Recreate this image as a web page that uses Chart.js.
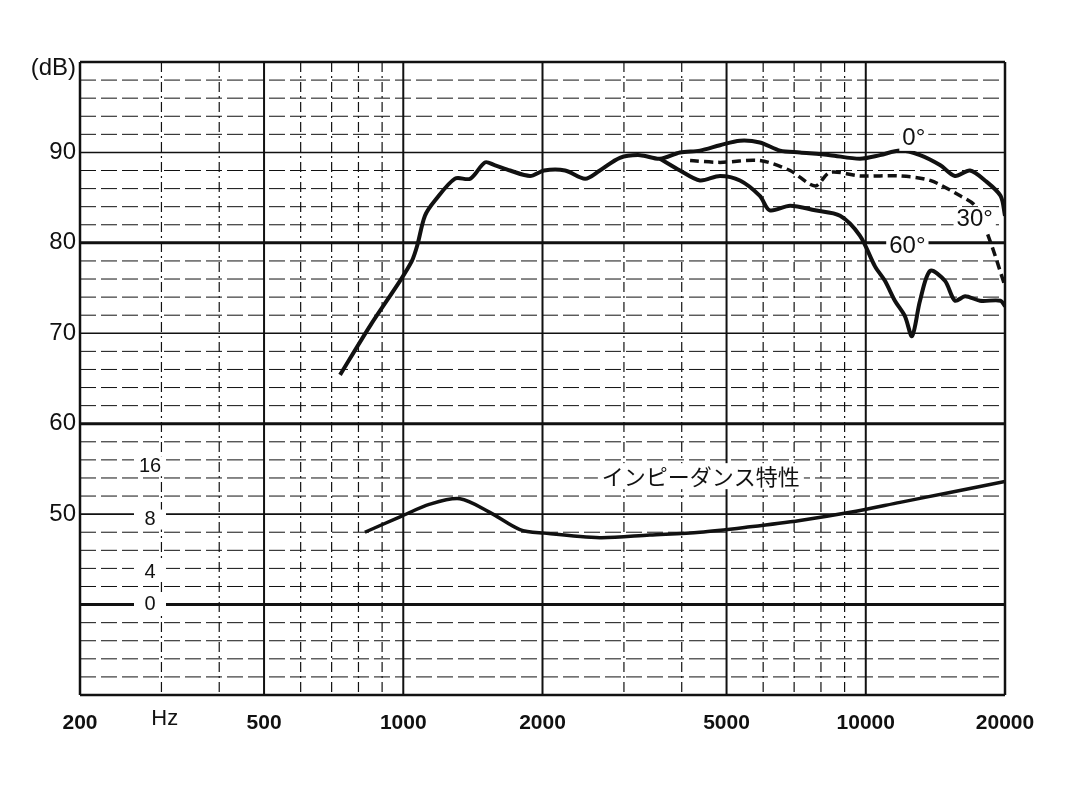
<!DOCTYPE html>
<html>
<head>
<meta charset="utf-8">
<script src="https://cdn.jsdelivr.net/npm/chart.js@4"></script>
<style>
  html, body { margin: 0; padding: 0; background: #fff; }
  #wrap { width: 1080px; height: 803px; }
</style>
</head>
<body>
<div id="wrap"><canvas id="c" width="1080" height="803"></canvas></div>
<script>
// frequency response (Hz, dB)
const resp0 = [[730,65.4],[847,70.8],[984,75.8],[1044,78],[1072,79.7],[1114,83],[1172,84.7],[1294,87.1],[1396,87.1],[1502,88.9],[1575,88.6],[1702,88],[1880,87.4],[2015,88],[2238,88],[2473,87.1],[2661,88],[2940,89.4],[3250,89.7],[3590,89.3],[3966,90],[4380,90.2],[4840,90.8],[5346,91.3],[5902,91.1],[6526,90.2],[7207,90],[8370,89.7],[9710,89.3],[10740,89.7],[11860,90.2],[13100,89.7],[14470,88.6],[15590,87.4],[16800,88],[18100,86.9],[19560,85.2],[20000,83]];
const resp30 = [[4170,89.1],[4840,88.9],[5900,89.1],[6860,88],[7770,86.3],[8370,87.8],[9710,87.4],[11860,87.4],[13780,86.9],[16000,85.2],[17230,84.1],[18570,80.2],[20000,75.2]];
const resp60 = [[3590,89.3],[3966,88],[4380,86.9],[4840,87.4],[5346,86.9],[5902,85.2],[6200,83.6],[6860,84.1],[7770,83.6],[8800,83],[9710,80.8],[10470,77.4],[11000,75.8],[11560,73.6],[12150,71.9],[12590,69.7],[13100,73.6],[13780,76.9],[14830,75.8],[15590,73.6],[16400,74.1],[17660,73.6],[19560,73.6],[20000,73]];
const impedance = [[826,48],[984,49.7],[1142,51.1],[1326,51.7],[1539,50.2],[1787,48.3],[2015,47.9],[2661,47.4],[3410,47.7],[4380,48],[5620,48.6],[7207,49.3],[9250,50.2],[11860,51.3],[15200,52.4],[20000,53.6]];

const xLabels = [200, 500, 1000, 2000, 5000, 10000, 20000];
const xGrid = [200,300,400,500,600,700,800,900,1000,2000,3000,4000,5000,6000,7000,8000,9000,10000,20000];
const yLabels = [50, 60, 70, 80, 90];
// impedance scale (ohm) placed at dB positions
const ohmLabels = [['16',55.3],['8',49.4],['4',43.6],['0',40]];
const curveLabels = [['0°',12700,91.5],['30°',17200,82.6],['60°',12300,79.6]];

const pts = a => a.map(p => ({x: p[0], y: p[1]}));
const ink = '#111';

const paperGrid = {
  id: 'paperGrid',
  beforeDatasetsDraw(chart) {
    const {ctx, chartArea: a, scales: {x, y}} = chart;
    ctx.save();
    ctx.strokeStyle = ink;
    for (let v = 32; v < 100; v += 2) {
      const py = y.getPixelForValue(v);
      let w = 1, dash = [16, 5];
      if (v % 20 === 0) { w = 3; dash = []; }
      else if (v % 10 === 0) { w = 1.6; dash = []; }
      ctx.lineWidth = w; ctx.setLineDash(dash);
      ctx.beginPath(); ctx.moveTo(a.left, py); ctx.lineTo(a.right, py); ctx.stroke();
    }
    xGrid.forEach(f => {
      const px = x.getPixelForValue(f);
      const major = [500,1000,2000,5000,10000].includes(f);
      const edge = f === 200 || f === 20000;
      ctx.lineWidth = edge ? 2.5 : major ? 2 : 1.2;
      ctx.setLineDash(edge || major ? [] : [10, 4, 2, 4]);
      ctx.beginPath(); ctx.moveTo(px, a.top); ctx.lineTo(px, a.bottom); ctx.stroke();
    });
    ctx.setLineDash([]);
    ctx.lineWidth = 2.5;
    ctx.beginPath(); ctx.moveTo(a.left, a.top); ctx.lineTo(a.right, a.top); ctx.stroke();
    ctx.beginPath(); ctx.moveTo(a.left, a.bottom); ctx.lineTo(a.right, a.bottom); ctx.stroke();
    ctx.restore();
  },
  afterDatasetsDraw(chart) {
    const {ctx, chartArea: a, scales: {x, y}} = chart;
    ctx.save();
    ctx.fillStyle = ink;
    ctx.textBaseline = 'middle';
    ctx.font = '24px "Liberation Sans", sans-serif';
    ctx.textAlign = 'right';
    yLabels.forEach(v => ctx.fillText(String(v), a.left - 4, y.getPixelForValue(v)));
    ctx.fillText('(dB)', a.left - 4, a.top + 6);
    ctx.font = '20px "Liberation Sans", sans-serif';
    ctx.textAlign = 'center';
    ohmLabels.forEach(([t, v]) => {
      const px = a.left + 70, py = y.getPixelForValue(v);
      ctx.fillStyle = '#fff'; ctx.fillRect(px - 16, py - 10, 32, 20);
      ctx.fillStyle = ink; ctx.fillText(t, px, py);
    });
    ctx.font = '24px "Liberation Sans", sans-serif';
    curveLabels.forEach(([t, f, v]) => {
      const px = x.getPixelForValue(f), py = y.getPixelForValue(v);
      const w = ctx.measureText(t).width + 6;
      ctx.fillStyle = '#fff'; ctx.fillRect(px - w / 2, py - 12, w, 24);
      ctx.fillStyle = ink; ctx.fillText(t, px, py);
    });
    ctx.font = '22px "Noto Sans CJK JP", sans-serif';
    const jt = 'インピーダンス特性';
    const jx = x.getPixelForValue(4400), jy = y.getPixelForValue(54.2);
    const jw = ctx.measureText(jt).width + 8;
    ctx.fillStyle = '#fff'; ctx.fillRect(jx - jw / 2, jy - 13, jw, 26);
    ctx.fillStyle = ink; ctx.fillText(jt, jx, jy);
    ctx.font = '22px "Liberation Sans", sans-serif';
    ctx.fillText('Hz', x.getPixelForValue(305), a.bottom + 24);
    ctx.restore();
  }
};

const line = (label, data, dash, width) => ({
  label, data: pts(data), borderColor: ink, borderWidth: width,
  borderDash: dash, pointRadius: 0, tension: 0.3, fill: false
});

new Chart(document.getElementById('c'), {
  type: 'line',
  data: {
    datasets: [
      line('0°', resp0, [], 4),
      line('30°', resp30, [9, 5], 3.5),
      line('60°', resp60, [], 4),
      line('impedance', impedance, [], 3.5)
    ]
  },
  options: {
    responsive: false,
    animation: false,
    layout: { padding: { top: 62, right: 75, bottom: 58, left: 0 } },
    plugins: { legend: { display: false }, tooltip: { enabled: false } },
    scales: {
      x: {
        type: 'logarithmic', min: 200, max: 20000,
        afterBuildTicks: s => { s.ticks = xLabels.map(v => ({value: v})); },
        afterFit: s => { s.height = 50; },
        grid: { display: false }, border: { display: false },
        ticks: {
          color: ink, autoSkip: false, maxRotation: 0, padding: 8,
          font: { family: '"Liberation Sans", sans-serif', size: 21, weight: 'bold' },
          callback: v => String(v)
        }
      },
      y: {
        min: 30, max: 100,
        afterFit: s => { s.width = 80; },
        grid: { display: false }, border: { display: false },
        ticks: { display: false }
      }
    }
  },
  plugins: [paperGrid]
});
</script>
</body>
</html>
